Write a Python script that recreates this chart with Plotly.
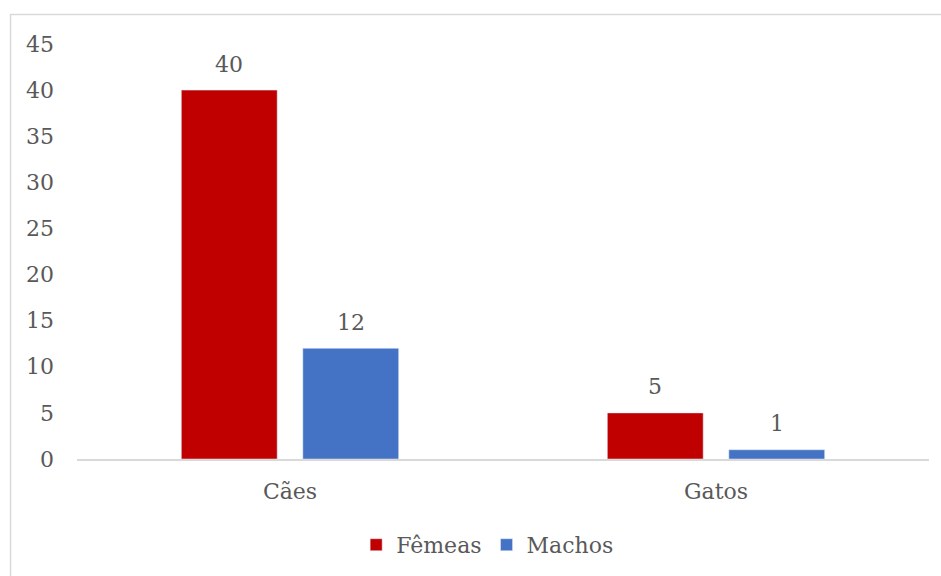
import plotly.graph_objects as go

categories = ["Cães", "Gatos"]
femeas = [40, 5]
machos = [12, 1]
series_names = ["Fêmeas", "Machos"]
y_ticks = [0, 5, 10, 15, 20, 25, 30, 35, 40, 45]

RED = "#C00000"
BLUE = "#4472C4"
TEXT = "#595959"
LINE = "#D9D9D9"
FONT = "DejaVu Serif"
FS = 22

# bar geometry in category units (each category spans 1.0)
bar_w = 0.225
half_gap = 0.1426  # distance from category centre to each bar centre

fig = go.Figure()
fig.add_trace(go.Bar(
    x=categories, y=femeas, name=series_names[0], marker_color=RED,
    width=bar_w, offset=-half_gap - bar_w / 2,
))
fig.add_trace(go.Bar(
    x=categories, y=machos, name=series_names[1], marker_color=BLUE,
    width=bar_w, offset=half_gap - bar_w / 2,
))

# value labels above each bar
for i, cat in enumerate(categories):
    for vals, sign in ((femeas, -1), (machos, 1)):
        fig.add_annotation(
            x=i + sign * half_gap, y=vals[i], xref="x", yref="y",
            text=str(vals[i]), showarrow=False, yanchor="middle", yshift=26,
            font=dict(family=FONT, size=FS, color=TEXT),
        )

# chart frame
fig.add_shape(
    type="rect", xref="paper", yref="paper",
    x0=-0.078, x1=1.02, y0=-0.3, y1=1.071,
    line=dict(color=LINE, width=1.5), fillcolor="rgba(0,0,0,0)", layer="below",
)

fig.update_layout(
    width=941, height=576,
    margin=dict(l=77, r=12, t=44, b=117, autoexpand=False),
    paper_bgcolor="white", plot_bgcolor="white",
    barmode="overlay",
    font=dict(family=FONT, size=FS, color=TEXT),
    showlegend=True,
    legend=dict(
        orientation="h", x=0.482, xanchor="center", y=-0.207, yanchor="middle",
        font=dict(family=FONT, size=FS, color=TEXT),
        bgcolor="rgba(0,0,0,0)",
    ),
    xaxis=dict(
        type="category", range=[-0.5, 1.5],
        showline=True, linecolor=LINE, linewidth=1.5,
        showgrid=False, ticks="", ticklabelstandoff=12,
        tickfont=dict(family=FONT, size=FS, color=TEXT),
    ),
    yaxis=dict(
        range=[0, 45], tickvals=y_ticks,
        showline=False, showgrid=False, zeroline=False, ticks="",
        ticklabelstandoff=22,
        tickfont=dict(family=FONT, size=FS, color=TEXT),
    ),
)

fig.write_html("out.html")
